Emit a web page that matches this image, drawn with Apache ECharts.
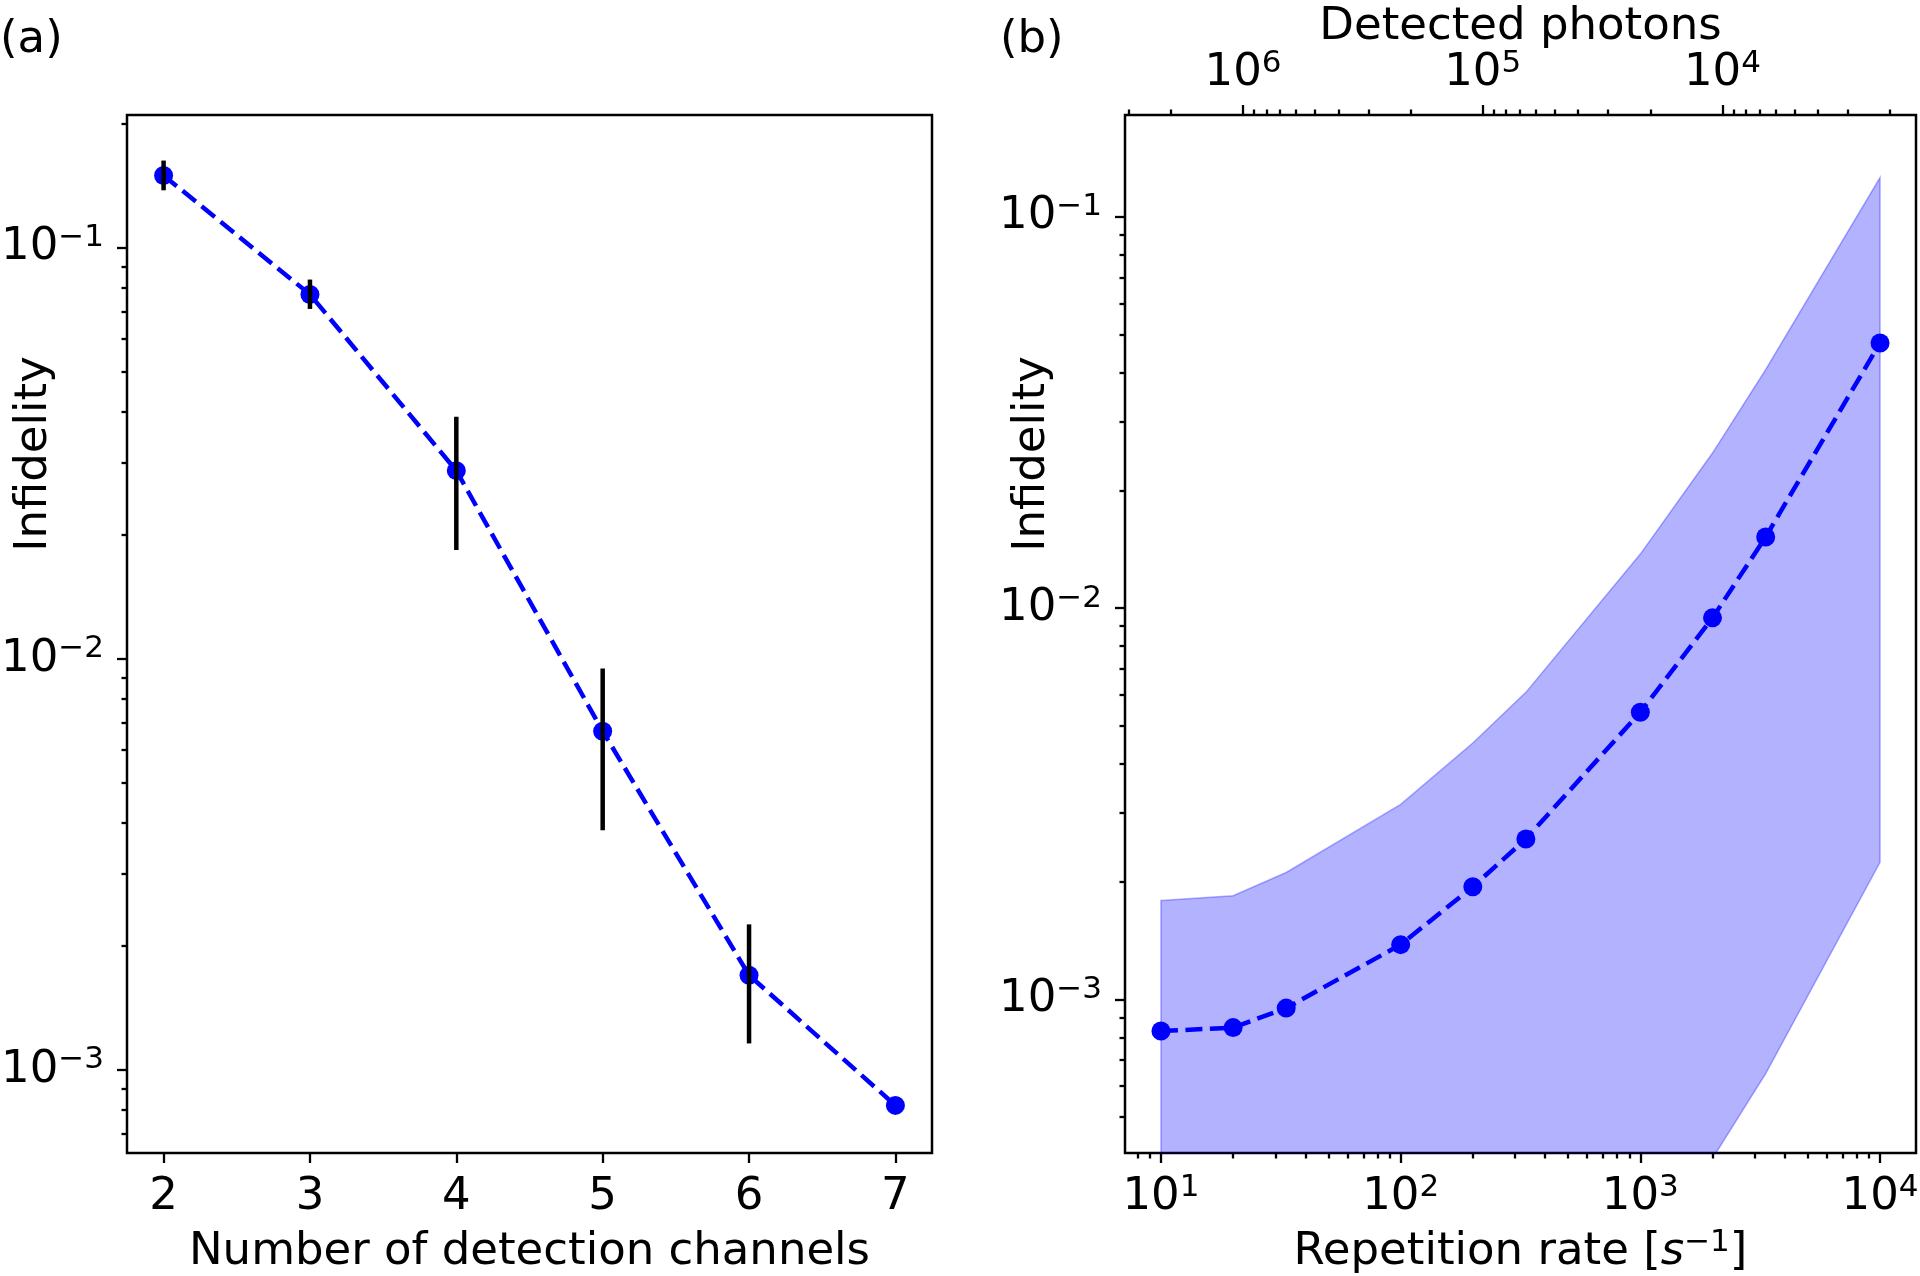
<!DOCTYPE html>
<html>
<head>
<meta charset="utf-8">
<title>Infidelity vs detection channels / repetition rate</title>
<script src="https://cdn.jsdelivr.net/npm/echarts@6/dist/echarts.min.js"></script>
<style>
  html, body { margin: 0; padding: 0; background: #fff; }
  #chart { width: 1920px; height: 1276px; }
</style>
</head>
<body>
<div id="chart"></div>
<script>
// ---- panel (a): infidelity vs number of detection channels ----
const channels = [2, 3, 4, 5, 6, 7];
const infidA   = [0.150, 0.077, 0.0287, 0.00667, 0.0017, 0.00082];
const errLowA  = [0.138, 0.071, 0.0184, 0.00383, 0.00116, null];
const errHighA = [0.163, 0.0837, 0.0388, 0.00947, 0.00226, null];

// ---- panel (b): infidelity vs repetition rate ----
const rates    = [10, 20, 33.3, 100, 200, 333, 1000, 2000, 3333, 10000];
const infidB   = [8.3e-4, 8.47e-4, 9.5e-4, 1.38e-3, 1.94e-3, 2.57e-3, 5.42e-3, 9.44e-3, 0.0152, 0.0476];
const bandHigh = [1.79e-3, 1.84e-3, 2.11e-3, 3.15e-3, 4.52e-3, 6.09e-3, 0.01374, 0.0249, 0.0407, 0.126];
// lower edge leaves the plot below 2e3; values there are only rough guesses
const bandLow  = [5e-5, 5e-5, 6e-5, 8e-5, 1e-4, 1.3e-4, 2.2e-4, 3.92e-4, 6.46e-4, 2.24e-3];

// top axis: detected photons = photonsK / rate
const photonsK = 2.2e7;

// tick labels
const xTicksA = [2, 3, 4, 5, 6, 7];
const yTicksA = [1e-3, 1e-2, 1e-1];
const yTicksB = [1e-3, 1e-2, 1e-1];
const rateTicks = [1e1, 1e2, 1e3, 1e4];
const photonTicks = [1e4, 1e5, 1e6];

function minorDecades(lo, hi) {
  const out = [];
  for (let e = lo; e <= hi; e++) {
    for (let k = 2; k <= 9; k++) out.push(+(k * Math.pow(10, e)).toPrecision(6));
  }
  return out;
}

const font = 'DejaVu Sans';
const FS = 45;

const rateMin = Math.pow(10, 0.85), rateMax = Math.pow(10, 4.15);
const yMinA = 6.28e-4, yMaxA = 0.2104;
const yMinB = 4.05e-4, yMaxB = 0.182;

const supRich = {
  b: { fontSize: FS, fontFamily: font, color: '#000', lineHeight: 50 },
  sup: { fontSize: 31, fontFamily: font, color: '#000', lineHeight: 26, verticalAlign: 'top' }
};
function powLabel(v) {
  const e = Math.round(Math.log10(v));
  return '{b|10}{sup|' + (e < 0 ? '\u2212' : '') + Math.abs(e) + '}';
}

const tickLine = { color: '#000', width: 2.3 };

function mainAxis(o) {
  return Object.assign({
    axisLine: { show: false, onZero: false },
    splitLine: { show: false },
    minorTick: { show: false },
    nameMoveOverlap: false,
    axisTick: { show: true, length: 10, lineStyle: tickLine, customValues: o.ticks },
    axisLabel: {
      show: true, customValues: o.ticks, margin: o.margin,
      formatter: o.fmt, rich: supRich,
      fontSize: FS, fontFamily: font, color: '#000', lineHeight: 50
    },
    nameTextStyle: { fontSize: FS, fontFamily: font, color: '#000', lineHeight: 50 }
  }, o.rest);
}
function minorAxis(o) {
  return Object.assign({
    axisLine: { show: false, onZero: false },
    splitLine: { show: false },
    axisLabel: { show: false },
    axisTick: { show: true, length: 5.5, lineStyle: tickLine, customValues: o.ticks }
  }, o.rest);
}

const option = {
  backgroundColor: '#fff',
  animation: false,
  title: [
    { text: '(a)', left: 0, top: 15, padding: 0,
      textStyle: { fontSize: FS, fontFamily: font, fontWeight: 'normal', color: '#000', lineHeight: 50 } },
    { text: '(b)', left: 1000, top: 15, padding: 0,
      textStyle: { fontSize: FS, fontFamily: font, fontWeight: 'normal', color: '#000', lineHeight: 50 } }
  ],
  grid: [
    { left: 127, top: 115, width: 805, height: 1038, show: true, borderColor: '#000', borderWidth: 2.5,
      backgroundColor: 'transparent', containLabel: false, outerBoundsMode: 'none' },
    { left: 1125, top: 115, width: 791, height: 1038, show: true, borderColor: '#000', borderWidth: 2.5,
      backgroundColor: 'transparent', containLabel: false, outerBoundsMode: 'none' }
  ],
  xAxis: [
    mainAxis({ ticks: xTicksA, margin: 19, fmt: v => '{b|' + v + '}', rest: {
      type: 'value', gridIndex: 0, position: 'bottom', min: 1.75, max: 7.25,
      name: 'Number of detection channels', nameLocation: 'middle', nameGap: 74 } }),
    mainAxis({ ticks: rateTicks, margin: 19, fmt: powLabel, rest: {
      type: 'log', logBase: 10, gridIndex: 1, position: 'bottom', min: rateMin, max: rateMax,
      name: 'Repetition rate [{it|s}{sup|\u22121}]', nameLocation: 'middle', nameGap: 74 } }),
    minorAxis({ ticks: minorDecades(0, 3), rest: {
      type: 'log', logBase: 10, gridIndex: 1, position: 'bottom', min: rateMin, max: rateMax } }),
    mainAxis({ ticks: photonTicks, margin: 17, fmt: powLabel, rest: {
      type: 'log', logBase: 10, gridIndex: 1, position: 'top', inverse: true,
      min: photonsK / rateMax, max: photonsK / rateMin,
      name: 'Detected photons', nameLocation: 'middle', nameGap: 63 } }),
    minorAxis({ ticks: minorDecades(3, 6), rest: {
      type: 'log', logBase: 10, gridIndex: 1, position: 'top', inverse: true,
      min: photonsK / rateMax, max: photonsK / rateMin } })
  ],
  yAxis: [
    mainAxis({ ticks: yTicksA, margin: 23, fmt: powLabel, rest: {
      type: 'log', logBase: 10, gridIndex: 0, position: 'left', min: yMinA, max: yMaxA,
      name: 'Infidelity', nameLocation: 'middle', nameGap: 68 } }),
    minorAxis({ ticks: minorDecades(-4, -1), rest: {
      type: 'log', logBase: 10, gridIndex: 0, position: 'left', min: yMinA, max: yMaxA } }),
    mainAxis({ ticks: yTicksB, margin: 23, fmt: powLabel, rest: {
      type: 'log', logBase: 10, gridIndex: 1, position: 'left', min: yMinB, max: yMaxB,
      name: 'Infidelity', nameLocation: 'middle', nameGap: 68 } }),
    minorAxis({ ticks: minorDecades(-4, -1), rest: {
      type: 'log', logBase: 10, gridIndex: 1, position: 'left', min: yMinB, max: yMaxB } })
  ],
  series: [
    {
      type: 'line', xAxisIndex: 0, yAxisIndex: 0, z: 3,
      data: channels.map((c, i) => [c, infidA[i]]),
      symbol: 'circle', symbolSize: 19,
      itemStyle: { color: '#0000ff' },
      lineStyle: { color: '#0000ff', width: 4.5, type: [17, 7.5] }
    },
    {
      type: 'custom', xAxisIndex: 0, yAxisIndex: 0, z: 4,
      data: channels.map((c, i) => [c, errLowA[i], errHighA[i]]),
      encode: { x: 0, y: [1, 2] },
      renderItem: function (params, api) {
        const lo = api.value(1), hi = api.value(2);
        if (lo == null || hi == null || isNaN(lo) || isNaN(hi)) return null;
        const p1 = api.coord([api.value(0), lo]);
        const p2 = api.coord([api.value(0), hi]);
        return {
          type: 'line',
          shape: { x1: p1[0], y1: p1[1], x2: p2[0], y2: p2[1] },
          style: { stroke: '#000', lineWidth: 4.5 }
        };
      }
    },
    {
      type: 'custom', xAxisIndex: 1, yAxisIndex: 2, z: 1,
      data: [[rates[0], bandHigh[0]]],
      renderItem: function (params, api) {
        const upper = rates.map((r, i) => api.coord([r, bandHigh[i]]));
        const lower = rates.map((r, i) => api.coord([r, bandLow[i]])).reverse();
        const cs = params.coordSys;
        return {
          type: 'polygon',
          shape: { points: upper.concat(lower) },
          style: { fill: 'rgba(0,0,255,0.3)', stroke: 'rgba(0,0,255,0.3)', lineWidth: 1.5 },
          clipPath: { type: 'rect', shape: { x: cs.x, y: cs.y, width: cs.width, height: cs.height } }
        };
      }
    },
    {
      type: 'line', xAxisIndex: 1, yAxisIndex: 2, z: 3,
      data: rates.map((r, i) => [r, infidB[i]]),
      symbol: 'circle', symbolSize: 19,
      itemStyle: { color: '#0000ff' },
      lineStyle: { color: '#0000ff', width: 4.5, type: [17, 7.5] }
    }
  ]
};

// name styles that need rich text / offsets
option.xAxis[1].nameTextStyle = {
  fontSize: FS, fontFamily: font, color: '#000', lineHeight: 50,
  rich: {
    it: { fontSize: FS, fontFamily: font, fontStyle: 'italic', color: '#000', lineHeight: 50 },
    sup: { fontSize: 31, fontFamily: font, color: '#000', lineHeight: 26, verticalAlign: 'top' }
  }
};
// the "Infidelity" labels sit above the middle of the axis
option.yAxis[0].nameTextStyle.padding = [0, 0, 0, 360];
option.yAxis[2].nameTextStyle.padding = [0, 0, 0, 360];

const chart = echarts.init(document.getElementById('chart'));
chart.setOption(option);
</script>
</body>
</html>
